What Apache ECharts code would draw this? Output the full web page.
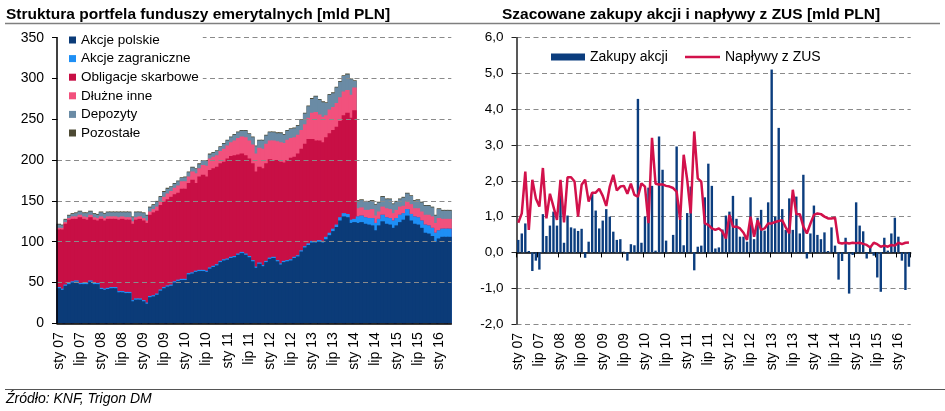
<!DOCTYPE html>
<html>
<head>
<meta charset="utf-8">
<script src="https://cdn.jsdelivr.net/npm/echarts@6/dist/echarts.min.js"></script>
<style>html,body{margin:0;padding:0;background:#fff}#chart{width:945px;height:411px}</style>
</head>
<body>
<div id="chart"></div>
<script>
// miesiace i lata osi X
var monthNames = ['sty','lut','mar','kwi','maj','cze','lip','sie','wrz','paź','lis','gru'];
var years = ['07','08','09','10','11','12','13','14','15','16'];
var categories = [];
years.forEach(function (y) {
  monthNames.forEach(function (m) {
    if (categories.length < 112) categories.push(m + ' ' + y);
  });
});

// Struktura portfela [mld PLN]
var akcjePolskie = [
  43,41,46,48,50,51,48,48,48,51,48,48,
  42,41,42,43,43,38,38,37,37,27,29,29,
  27,24,32,33,35,40,43,45,46,50,52,53,
  53,60,61,63,64,64,63,67,69,71,75,77,
  78,80,81,84,86,84,81,76,68,73,70,75,
  79,80,76,72,75,76,77,80,82,88,93,96,
  99,99,100,99,103,108,113,118,126,131,130,123,
  124,123,124,122,121,120,114,120,125,122,121,117,
  120,124,127,132,126,122,121,117,111,110,107,100,
  104,106,106,106
];
var akcjeZagraniczne = [
  1.5,1.5,1.5,1.5,1.5,1.5,1.5,1.5,1.5,1.5,1.5,1.5,
  1.5,1.5,1.5,1.5,1.5,1.5,1.5,1.5,1.5,1.5,1.5,1.5,
  1.5,1.5,1.5,1.5,1.5,1.5,1.5,1.5,1.5,1.5,1.5,1.5,
  1.5,1.5,1.5,1.5,1.5,1.5,1.5,1.5,1.5,1.5,1.5,1.5,
  1.5,1.5,1.5,1.5,1.5,1.5,1.5,1.5,1.5,1.5,1.5,1.5,
  1.5,1.5,1.5,1.5,1.5,1.5,1.5,1.5,1.5,1.5,1.5,2,
  2,2,2,2,3,3,3,3,4,4,4,4,
  4,8,8,8,8,9,9,8,8,8,8,9,
  9,9,8,8,8,9,9,9,10,10,10,11,
  10,10,10,10
];
var obligacjeSkarbowe = [
  70.5,72.5,74.5,77.5,76.5,75.5,80.5,78.5,77.5,77.5,77.5,76.5,
  84.5,83.5,84.5,83.5,83.5,87.5,88.5,88.5,88.5,93.5,96.5,97.5,
  97.5,97.5,99.5,101.5,101.5,103.5,104.5,105.5,107.5,106.5,106.5,110.5,
  110.5,110.5,113.5,107.5,114.5,116.5,115.5,119.5,119.5,119.5,119.5,119.5,
  122.5,123.5,123.5,121.5,120.5,120.5,119.5,118.5,116.5,117.5,118.5,119.5,
  120.5,118.5,122.5,124.5,120.5,122.5,124.5,122.5,124.5,124.5,125.5,128,
  125,123,122,121,122,122,121,120,118,120,124,125,
  133,0,0,0,0,0,0,0,0,0,0,0,
  0,0,0,0,0,0,0,0,0,0,0,0,
  0,0,0,0
];
var dluzneInne = [
  2,2,2,2,3,3,3,3,3,3,3,3,
  3,3,3,3,3,3,3,3,3,3,3,3,
  3,3,4,4,5,5,6,7,7,8,9,9,
  9,8,10,12,10,12,13,14,14,14,15,16,
  16,17,18,20,21,22,22,23,22,23,24,24,
  23,24,23,24,24,25,24,24,23,23,24,26,
  32,35,32,31,27,29,28,29,29,29,28,28,
  28,10,10,9,10,11,9,9,10,11,11,9,
  10,10,9,10,12,10,11,11,12,13,14,12,
  15,12,12,12
];
var depozyty = [
  4,3,3,3,3,4,4,4,5,4,4,4,
  5,5,5,5,5,6,5,6,6,5,6,5,
  6,6,5,5,6,5,6,6,5,5,5,4,
  5,5,5,5,5,5,6,5,5,5,5,6,
  6,6,7,7,7,8,8,9,9,9,10,10,
  10,10,10,11,10,11,11,11,11,12,13,14,
  17,19,18,18,15,18,17,19,19,19,19,19,
  8,9,9,10,10,10,13,11,12,11,12,11,
  10,9,10,9,10,9,10,11,11,11,11,9,
  11,10,10,10
];
var pozostale = [
  1,1,1,1,1,1,1,1,1,1,1,1,
  1,1,1,1,1,1,1,1,1,1,1,1,
  1,1,1,1,1,1,1,1,1,1,1,1,
  1,1,1,1,1,1,1,1,1,1,1,1,
  1,1,1,1,1,1,1,1,1,1,1,1,
  1,1,1,1,1,1,1,1,1,1,1,1,
  1,1,1,1,1,1,1,1,1,1,1,1,
  1,1,1,1,1,1,1,1,1,1,1,1,
  1,1,1,1,1,1,1,1,1,1,1,1,
  1,1,1,1
];

// Zakupy akcji i naplywy z ZUS [mld PLN]
var zakupyAkcji = [
  0.35,0.53,0.81,0.04,-0.52,-0.23,-0.48,1.07,0.46,0.75,1.14,0.75,
  1.6,0.27,1.03,0.7,0.67,0.6,0.66,-0.15,0.3,1.65,1.17,0.67,
  0.89,1.21,1.0,0.58,0.35,0.37,0.02,-0.23,0.23,0.2,4.29,0.27,
  1.0,1.81,1.86,0.05,3.24,2.31,0.33,0.0,0.49,2.96,0.93,0.2,
  1.1,1.84,-0.5,0.16,0.19,1.54,2.48,1.86,0.11,0.14,0.64,1.03,
  1.14,1.58,0.94,0.44,0.44,0.3,1.54,0.37,0.97,1.19,0.61,1.4,
  5.11,1.0,3.48,1.21,0.63,1.51,0.63,1.56,0.53,2.17,-0.17,0.53,
  1.31,0.49,0.37,0.56,0.04,0.7,0.19,-0.76,-0.24,0.41,-1.15,-0.07,
  1.4,0.75,0.59,-0.17,0.16,-0.09,-0.7,-1.1,0.41,0.05,0.53,0.97,
  0.44,-0.23,-1.05,-0.4
];
var naplywyZUS = [
  0.83,1.09,2.26,0.63,2.03,1.51,1.28,2.36,0.95,1.64,1.28,0.91,
  2.03,0.84,2.1,2.1,1.98,1.0,1.89,2.03,1.42,1.67,1.67,1.78,
  1.58,1.3,1.84,2.17,1.73,1.84,1.86,1.64,1.92,1.61,1.56,1.93,
  1.84,0.82,3.2,1.92,1.9,1.9,1.86,1.84,1.8,1.7,0.91,2.73,
  2.03,1.09,3.38,2.07,1.98,0.81,0.77,0.67,0.63,0.67,0.58,0.39,
  1.05,0.72,0.72,0.67,0.55,0.35,1.0,0.44,0.9,0.63,0.67,0.81,
  0.81,0.85,0.88,0.9,0.7,0.53,1.75,1.07,1.07,0.72,0.53,0.8,
  1.05,1.09,1.07,1.0,0.95,0.95,0.97,0.27,0.25,0.27,0.25,0.27,
  0.26,0.27,0.24,0.21,0.14,0.27,0.23,0.16,0.19,0.16,0.21,0.19,
  0.27,0.23,0.27,0.28
];

var font = "'Liberation Sans', Arial, sans-serif";
var gridDash = { color: '#8a8a8a', width: 1.2, type: [5, 3.5] };

// warstwy portfela (od dolu)
var warstwy = [
  { name: 'Akcje polskie', data: akcjePolskie, color: '#0b3b78' },
  { name: 'Akcje zagraniczne', data: akcjeZagraniczne, color: '#1e8ff5' },
  { name: 'Obligacje skarbowe', data: obligacjeSkarbowe, color: '#c80f45' },
  { name: 'Dłużne inne', data: dluzneInne, color: '#f2517d' },
  { name: 'Depozyty', data: depozyty, color: '#6a8ba5' },
  { name: 'Pozostałe', data: pozostale, color: '#4d4a34' }
];

// kazda warstwa rysowana od 0 do sumy skumulowanej, nizsze warstwy na wierzchu
var suma = categories.map(function () { return 0; });
var portfelSeries = warstwy.map(function (w, k) {
  var pts = w.data.map(function (v, i) { suma[i] += v; return [i, suma[i]]; });
  return {
    name: w.name, type: 'custom', xAxisIndex: 0, yAxisIndex: 0,
    z: 10 - k, data: pts, encode: { x: 0, y: 1 },
    itemStyle: { color: w.color },
    renderItem: function (params, api) {
      var top = api.coord([api.value(0), api.value(1)]);
      var base = api.coord([api.value(0), 0]);
      var bw = api.size([1, 0])[0];
      return {
        type: 'rect',
        shape: { x: top[0] - bw / 2 - 0.5, y: top[1], width: bw + 1, height: base[1] - top[1] },
        style: { fill: w.color }
      };
    }
  };
});

function catLabels() {
  return { interval: 5, rotate: 90, margin: 9, fontSize: 14, color: '#000', fontFamily: font };
}

var legendText = { fontSize: 14, color: '#000', fontFamily: font, lineHeight: 14 };

var myChart = echarts.init(document.getElementById('chart'), null, { renderer: 'canvas' });
var option = {
  animation: false,
  backgroundColor: '#fff',
  textStyle: { fontFamily: font },
  graphic: [
    { type: 'text', left: 6, top: 7, style: { text: 'Struktura portfela funduszy emerytalnych [mld PLN]', font: 'bold 15.5px ' + font, fill: '#000' } },
    { type: 'text', left: 502, top: 7, style: { text: 'Szacowane zakupy akcji i napływy z ZUS [mld PLN]', font: 'bold 15.5px ' + font, fill: '#000' } },
    { type: 'line', shape: { x1: 5, y1: 23.5, x2: 940, y2: 23.5 }, style: { stroke: '#7f7f7f', lineWidth: 1.5 } },
    { type: 'line', shape: { x1: 5, y1: 389.5, x2: 945, y2: 389.5 }, style: { stroke: '#555', lineWidth: 1 } },
    { type: 'text', left: 6, top: 392, style: { text: 'Źródło: KNF, Trigon DM', font: 'italic 14px ' + font, fill: '#000' } }
  ],
  legend: [
    {
      orient: 'vertical', left: 58, top: 29, z: 20,
      padding: [4, 4, 6, 11],
      backgroundColor: '#fff',
      itemWidth: 7, itemHeight: 7, itemGap: 4.6,
      icon: 'rect',
      textStyle: { fontSize: 13.5, color: '#000', fontFamily: font, lineHeight: 14 },
      data: warstwy.map(function (w) { return w.name; })
    },
    {
      left: 551, top: 50, padding: 0,
      itemWidth: 34, itemHeight: 7, icon: 'rect',
      textStyle: legendText,
      data: ['Zakupy akcji']
    },
    {
      left: 685, top: 50, padding: 0,
      itemWidth: 35, itemHeight: 2.6, icon: 'rect',
      textStyle: legendText,
      data: ['Napływy z ZUS']
    }
  ],
  grid: [
    { left: 57, right: 493.7, top: 37.7, bottom: 87.7 },
    { left: 516.5, right: 34.3, top: 37.7, bottom: 87 }
  ],
  xAxis: [
    {
      gridIndex: 0, type: 'category', data: categories, z: 15,
      axisLine: { lineStyle: { color: '#000', width: 1.5 } },
      axisTick: { interval: 5, length: 5, lineStyle: { color: '#000' } },
      axisLabel: catLabels()
    },
    {
      gridIndex: 1, type: 'category', data: categories, position: 'bottom',
      axisLine: { show: false, onZero: false },
      axisTick: { show: false },
      axisLabel: catLabels()
    },
    {
      gridIndex: 1, type: 'category', data: categories, position: 'top',
      axisLine: { show: true, onZero: true, lineStyle: { color: '#000', width: 1.5 } },
      axisTick: { show: true, inside: true, interval: 5, length: 5, lineStyle: { color: '#000' } },
      axisLabel: { show: false }
    }
  ],
  yAxis: [
    {
      gridIndex: 0, type: 'value', min: 0, max: 350, interval: 50, z: 15,
      axisLine: { show: true, lineStyle: { color: '#000', width: 1.5 } },
      axisTick: { show: true, length: 5, lineStyle: { color: '#000' } },
      axisLabel: { margin: 13, fontSize: 14, color: '#000', fontFamily: font },
      splitLine: { lineStyle: gridDash }
    },
    {
      gridIndex: 1, type: 'value', min: -2, max: 6, interval: 1,
      axisLine: { show: true, lineStyle: { color: '#222', width: 1.5 } },
      axisTick: { show: true, length: 5, lineStyle: { color: '#222' } },
      axisLabel: {
        margin: 13, fontSize: 13.5, color: '#000', fontFamily: font,
        formatter: function (v) { return v.toFixed(1).replace('.', ','); }
      },
      splitLine: { lineStyle: gridDash }
    }
  ],
  series: portfelSeries.concat([
    {
      name: 'Zakupy akcji', type: 'bar', data: zakupyAkcji,
      xAxisIndex: 1, yAxisIndex: 1, barWidth: 2.4,
      itemStyle: { color: '#0b3d7e' },
      emphasis: { disabled: true }
    },
    {
      name: 'Napływy z ZUS', type: 'line', data: naplywyZUS,
      xAxisIndex: 1, yAxisIndex: 1,
      symbol: 'none', showSymbol: false,
      lineStyle: { color: '#d2114b', width: 2.5 },
      itemStyle: { color: '#d2114b' },
      emphasis: { disabled: true }
    }
  ])
};
myChart.setOption(option);
</script>
</body>
</html>
